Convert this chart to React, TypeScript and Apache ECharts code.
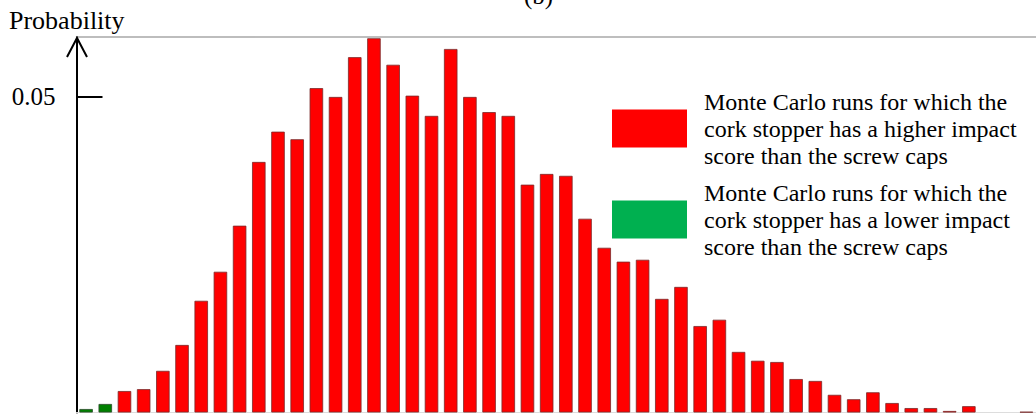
import React, { useEffect, useRef } from "react";
import * as echarts from "echarts";

// Histogram bins (50 equal-width bins, the last one cut by the figure edge)
const categories: string[] = Array.from({ length: 50 }, (_, i) => `bin${i + 1}`);

// Runs where the cork stopper has a LOWER impact score (first bins)
const lowerValues: number[] = [0.00055, 0.00135];

// Runs where the cork stopper has a HIGHER impact score (bins 3..50)
const higherValues: number[] = [
  0.0034, 0.0037, 0.0066, 0.0107, 0.0177, 0.0223, 0.0296, 0.0397, 0.0445, 0.0433,
  0.0514, 0.05, 0.0563, 0.0593, 0.0551, 0.0502, 0.047, 0.0576, 0.05, 0.0476,
  0.047, 0.0361, 0.0378, 0.0375, 0.0307, 0.0261, 0.0239, 0.0242, 0.018, 0.0199,
  0.0137, 0.0147, 0.0096, 0.0082, 0.008, 0.0053, 0.005, 0.0028, 0.0021, 0.0032,
  0.0015, 0.0007, 0.0007, 0.00024, 0.001, 0, 0, 0.0001,
];

const yTickValues: number[] = [0.05];

const higherLabel =
  "Monte Carlo runs for which the\ncork stopper has a higher impact\nscore than the screw caps";
const lowerLabel =
  "Monte Carlo runs for which the\ncork stopper has a lower impact\nscore than the screw caps";

const SERIF = "'Liberation Serif', 'Times New Roman', 'DejaVu Serif', serif";

export default function App() {
  const ref = useRef<HTMLDivElement>(null);

  useEffect(() => {
    if (!ref.current) return;
    const chart = echarts.init(ref.current, null, { renderer: "svg" });

    const n = lowerValues.length;
    const lowerData = categories.map((_, i) => (i < n ? lowerValues[i] : null));
    const higherData = categories.map((_, i) => {
      if (i < n) return null;
      const v = higherValues[i - n];
      return v === 0 ? null : v;
    });

    chart.setOption({
      animation: false,
      backgroundColor: "#ffffff",
      title: [
        {
          text: "(b)",
          left: 524,
          top: -17,
          padding: 0,
          textStyle: { fontFamily: SERIF, fontSize: 25, fontWeight: "normal", color: "#000" },
        },
        {
          text: "Probability",
          left: 9,
          top: 7,
          padding: 0,
          textStyle: { fontFamily: SERIF, fontSize: 26, fontWeight: "normal", color: "#000" },
        },
      ],
      legend: {
        orient: "vertical",
        left: 612,
        top: 88,
        padding: 0,
        itemWidth: 75,
        itemHeight: 38,
        itemGap: 10,
        icon: "rect",
        data: [
          { name: "higher", itemStyle: { color: "#ff0000", borderWidth: 0 } },
          { name: "lower", itemStyle: { color: "#00b050", borderWidth: 0 } },
        ],
        formatter: (name: string) => (name === "higher" ? higherLabel : lowerLabel),
        textStyle: {
          fontFamily: SERIF,
          fontSize: 24,
          lineHeight: 27,
          color: "#000",
          padding: [0, 0, 0, 12],
        },
        selectedMode: false,
      },
      grid: { left: 76.5, right: -4, top: 37, bottom: 1.5, containLabel: false },
      xAxis: [
        {
          type: "category",
          data: categories,
          boundaryGap: true,
          axisLine: { show: true, lineStyle: { color: "#dddddd", width: 1 } },
          axisTick: { show: false },
          axisLabel: { show: false },
          splitLine: { show: false },
        },
        {
          type: "category",
          data: categories,
          position: "top",
          axisLine: { show: true, lineStyle: { color: "#a8a8a8", width: 1.5 } },
          axisTick: { show: false },
          axisLabel: { show: false },
          splitLine: { show: false },
        },
      ],
      yAxis: {
        type: "value",
        min: 0,
        max: 0.0595,
        axisLine: { show: true, lineStyle: { color: "#000", width: 2 } },
        axisTick: {
          show: true,
          inside: true,
          length: 26,
          customValues: yTickValues,
          lineStyle: { color: "#000", width: 2 },
        },
        axisLabel: {
          show: true,
          customValues: yTickValues,
          formatter: (v: number) => v.toFixed(2),
          margin: 21,
          fontFamily: SERIF,
          fontSize: 25,
          color: "#000",
        },
        splitLine: { show: false },
      },
      graphic: [
        {
          type: "polyline",
          shape: { points: [[67, 57], [77, 38], [87, 57]] },
          style: { stroke: "#000", lineWidth: 2, fill: null },
          z: 100,
        },
      ],
      series: [
        {
          name: "lower",
          type: "bar",
          stack: "runs",
          data: lowerData,
          barWidth: 13.5,
          itemStyle: { color: "#008000", borderColor: "#2a4a2a", borderWidth: 0.8 },
        },
        {
          name: "higher",
          type: "bar",
          stack: "runs",
          data: higherData,
          barWidth: 13.5,
          itemStyle: { color: "#ff0000", borderColor: "#7a2a2a", borderWidth: 0.8 },
        },
      ],
    });

    return () => chart.dispose();
  }, []);

  return (
    <div
      ref={ref}
      style={{ position: "fixed", left: 0, top: 0, width: 1036, height: 414 }}
    />
  );
}
